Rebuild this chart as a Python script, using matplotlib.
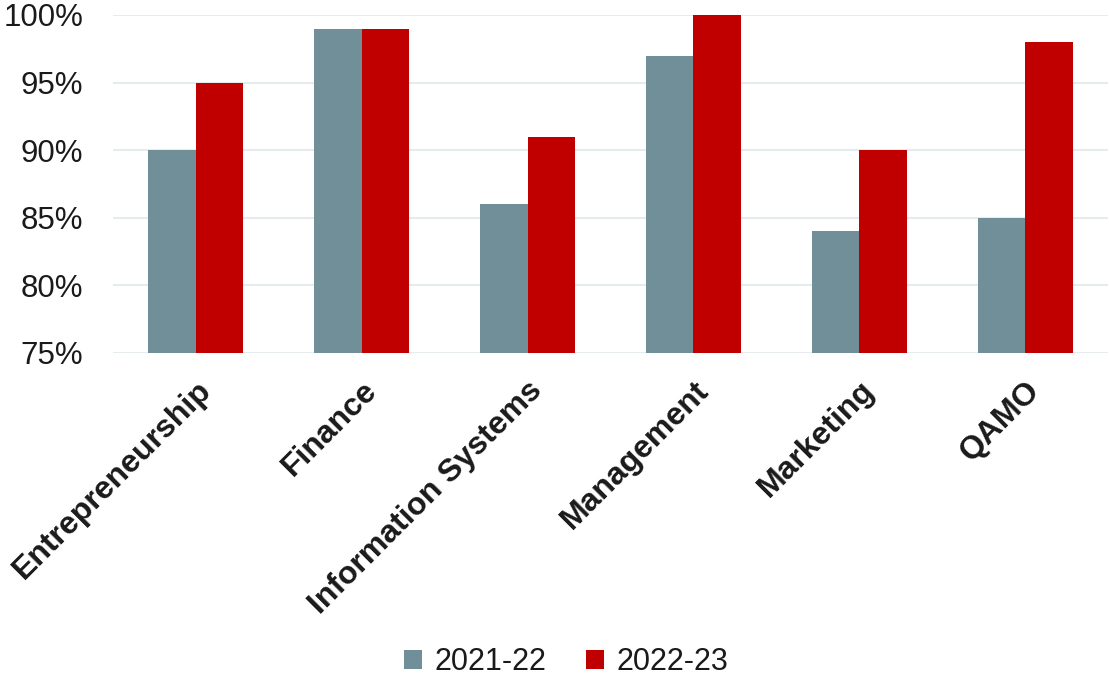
import matplotlib
matplotlib.use("Agg")
import matplotlib.pyplot as plt
import numpy as np
from matplotlib.ticker import FuncFormatter

categories = ["Entrepreneurship", "Finance", "Information Systems", "Management", "Marketing", "QAMO"]
series_names = ["2021-22", "2022-23"]
values_2021 = [90, 99, 86, 97, 84, 85]
values_2022 = [95, 99, 91, 100, 90, 98]
colors = ["#718F99", "#C00000"]

plt.rcParams['font.family'] = ['Liberation Sans', 'DejaVu Sans']

fig = plt.figure(figsize=(11.09, 6.76), dpi=100)
ax = fig.add_axes([113/1109, 1-353/676, (1108-113)/1109, (353-15)/676])

x = np.arange(len(categories))
w = 0.286
ax.bar(x - w/2, values_2021, w, color=colors[0], label=series_names[0], zorder=3)
ax.bar(x + w/2, values_2022, w, color=colors[1], label=series_names[1], zorder=3)

ax.set_xlim(-0.5, len(categories) - 0.5)
ax.set_ylim(75, 100)
ax.set_yticks([75, 80, 85, 90, 95, 100])
ax.yaxis.set_major_formatter(FuncFormatter(lambda v, p: f"{v:.0f}%"))
ax.grid(axis='y', color='#E6EBEE', linewidth=1.5, zorder=0)
for s in ax.spines.values():
    s.set_visible(False)
ax.tick_params(axis='both', length=0)
ax.tick_params(axis='y', labelsize=22.5, labelcolor='#1a1a1a', pad=21.5)
ax.set_xticks(x)
ax.set_xticklabels(categories, rotation=45, ha='right', rotation_mode='anchor',
                   fontsize=23, fontweight='bold', color='#1a1a1a')
ax.tick_params(axis='x', pad=16)

leg = ax.legend(loc='center', bbox_to_anchor=(566/1109, 1-662/676), bbox_transform=fig.transFigure,
                ncol=2, frameon=False, fontsize=22, handlelength=0.6, handleheight=0.6,
                handletextpad=0.4, columnspacing=1.3)
for t in leg.get_texts():
    t.set_color('#1a1a1a')

fig.savefig("out.png", dpi=100)
